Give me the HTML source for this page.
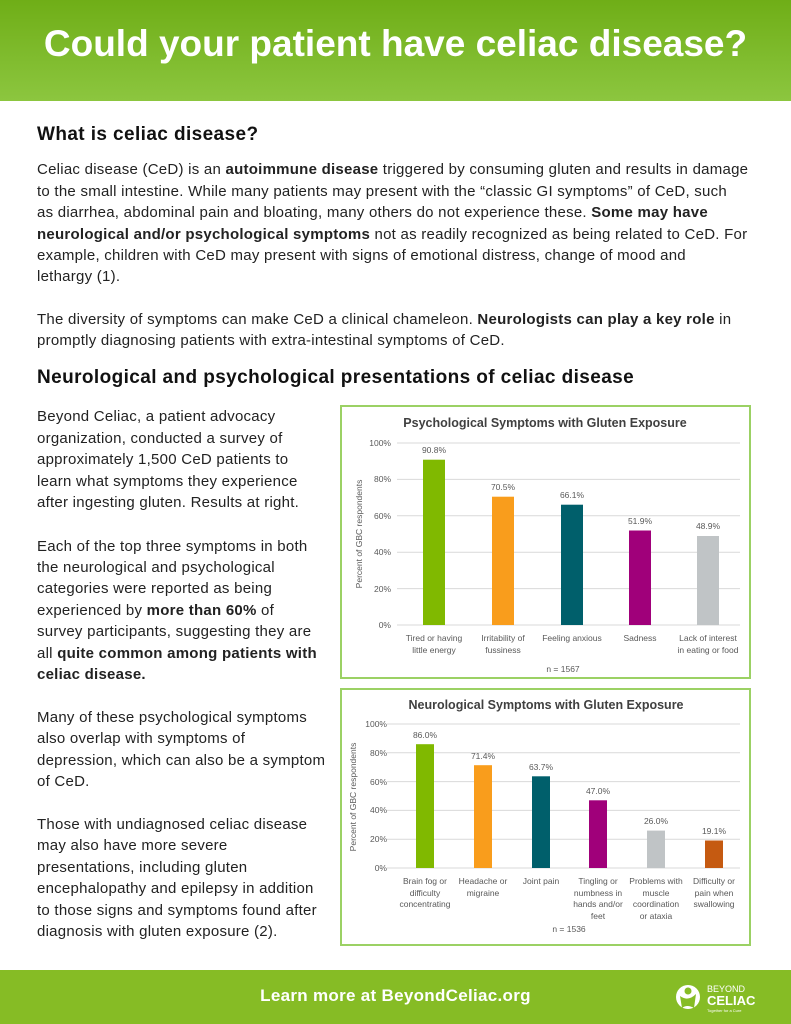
<!DOCTYPE html>
<html><head><meta charset="utf-8"><style>
*{margin:0;padding:0;box-sizing:border-box}
body{width:791px;height:1024px;position:relative;background:#fff;font-family:"Liberation Sans",sans-serif;color:#222;overflow:hidden}
.hdr{position:absolute;left:0;top:0;width:791px;height:101px;background:linear-gradient(#6fae17,#8cc63f);}
.hdr div{position:absolute;left:0;width:791px;top:23px;text-align:center;color:#fff;font-weight:bold;font-size:37px}
.l{position:absolute;white-space:nowrap;font-size:15px;line-height:20px;letter-spacing:0.25px}
.h{position:absolute;font-size:19px;color:#111;white-space:nowrap;font-weight:bold;letter-spacing:0.4px}
.ftr{position:absolute;left:0;top:970px;width:791px;height:54px;background:#86bc25}
.box{position:absolute;border:2px solid #9bd164;background:#fff}
</style></head><body>
<div class="hdr"><div>Could your patient have celiac disease?</div></div>
<div class="h" style="left:37px;top:124px">What is celiac disease?</div>
<div class="l" style="left:37px;top:160px">Celiac disease (CeD) is an <b>autoimmune disease</b> triggered by consuming gluten and results in damage</div>
<div class="l" style="left:37px;top:182px">to the small intestine. While many patients may present with the “classic GI symptoms” of CeD, such</div>
<div class="l" style="left:37px;top:203px">as diarrhea, abdominal pain and bloating, many others do not experience these. <b>Some may have</b></div>
<div class="l" style="left:37px;top:225px"><b>neurological and/or psychological symptoms</b> not as readily recognized as being related to CeD. For</div>
<div class="l" style="left:37px;top:246px">example, children with CeD may present with signs of emotional distress, change of mood and</div>
<div class="l" style="left:37px;top:267px">lethargy (1).</div>
<div class="l" style="left:37px;top:310px">The diversity of symptoms can make CeD a clinical chameleon. <b>Neurologists can play a key role</b> in</div>
<div class="l" style="left:37px;top:331px">promptly diagnosing patients with extra-intestinal symptoms of CeD.</div>
<div class="h" style="left:37px;top:367px">Neurological and psychological presentations of celiac disease</div>
<div class="l" style="left:37px;top:407px">Beyond Celiac, a patient advocacy</div>
<div class="l" style="left:37px;top:429px">organization, conducted a survey of</div>
<div class="l" style="left:37px;top:450px">approximately 1,500 CeD patients to</div>
<div class="l" style="left:37px;top:472px">learn what symptoms they experience</div>
<div class="l" style="left:37px;top:493px">after ingesting gluten. Results at right.</div>
<div class="l" style="left:37px;top:537px">Each of the top three symptoms in both</div>
<div class="l" style="left:37px;top:558px">the neurological and psychological</div>
<div class="l" style="left:37px;top:579px">categories were reported as being</div>
<div class="l" style="left:37px;top:601px">experienced by <b>more than 60%</b> of</div>
<div class="l" style="left:37px;top:622px">survey participants, suggesting they are</div>
<div class="l" style="left:37px;top:644px">all <b>quite common among patients with</b></div>
<div class="l" style="left:37px;top:665px"><b>celiac disease.</b></div>
<div class="l" style="left:37px;top:708px">Many of these psychological symptoms</div>
<div class="l" style="left:37px;top:729px">also overlap with symptoms of</div>
<div class="l" style="left:37px;top:751px">depression, which can also be a symptom</div>
<div class="l" style="left:37px;top:772px">of CeD.</div>
<div class="l" style="left:37px;top:815px">Those with undiagnosed celiac disease</div>
<div class="l" style="left:37px;top:836px">may also have more severe</div>
<div class="l" style="left:37px;top:858px">presentations, including gluten</div>
<div class="l" style="left:37px;top:879px">encephalopathy and epilepsy in addition</div>
<div class="l" style="left:37px;top:901px">to those signs and symptoms found after</div>
<div class="l" style="left:37px;top:922px">diagnosis with gluten exposure (2).</div>

<div class="box" style="left:340px;top:405px;width:411px;height:274px"></div>
<div class="box" style="left:340px;top:688px;width:411px;height:258px"></div>
<svg style="position:absolute;left:0;top:0" width="791" height="1024" font-family="Liberation Sans, sans-serif">
<g font-size="8.5" fill="#595959">
<text x="545" y="427" text-anchor="middle" font-size="12.5" font-weight="bold" fill="#404040">Psychological Symptoms with Gluten Exposure</text>
<g stroke="#d9d9d9" stroke-width="1">
<line x1="397" x2="740" y1="443" y2="443"/><line x1="397" x2="740" y1="479.4" y2="479.4"/><line x1="397" x2="740" y1="515.8" y2="515.8"/><line x1="397" x2="740" y1="552.2" y2="552.2"/><line x1="397" x2="740" y1="588.6" y2="588.6"/><line x1="397" x2="740" y1="625" y2="625"/></g>
<g text-anchor="end"><text x="391" y="446">100%</text><text x="391" y="482">80%</text><text x="391" y="519">60%</text><text x="391" y="555">40%</text><text x="391" y="592">20%</text><text x="391" y="628">0%</text></g>
<text transform="translate(362,534) rotate(-90)" text-anchor="middle">Percent of GBC respondents</text>
<rect x="423" y="459.7" width="22" height="165.3" fill="#80b900"/>
<rect x="492" y="496.7" width="22" height="128.3" fill="#f99d1c"/>
<rect x="561" y="504.7" width="22" height="120.3" fill="#005f6b"/>
<rect x="629" y="530.5" width="22" height="94.5" fill="#a0007a"/>
<rect x="697" y="536" width="22" height="89" fill="#c0c4c6"/>
<g text-anchor="middle"><text x="434" y="453">90.8%</text><text x="503" y="490">70.5%</text><text x="572" y="498">66.1%</text><text x="640" y="524">51.9%</text><text x="708" y="529">48.9%</text>
<text x="434" y="641">Tired or having</text><text x="434" y="653">little energy</text>
<text x="503" y="641">Irritability of</text><text x="503" y="653">fussiness</text>
<text x="572" y="641">Feeling anxious</text><text x="640" y="641">Sadness</text>
<text x="708" y="641">Lack of interest</text><text x="708" y="653">in eating or food</text>
<text x="563" y="672">n = 1567</text></g>

<text x="546" y="709" text-anchor="middle" font-size="12.5" font-weight="bold" fill="#404040">Neurological Symptoms with Gluten Exposure</text>
<g stroke="#d9d9d9"><line x1="387" x2="740" y1="724" y2="724"/><line x1="387" x2="740" y1="752.8" y2="752.8"/><line x1="387" x2="740" y1="781.6" y2="781.6"/><line x1="387" x2="740" y1="810.4" y2="810.4"/><line x1="387" x2="740" y1="839.2" y2="839.2"/><line x1="387" x2="740" y1="868" y2="868"/></g>
<g text-anchor="end"><text x="387" y="727">100%</text><text x="387" y="756">80%</text><text x="387" y="785">60%</text><text x="387" y="813">40%</text><text x="387" y="842">20%</text><text x="387" y="871">0%</text></g>
<text transform="translate(356,797) rotate(-90)" text-anchor="middle">Percent of GBC respondents</text>
<rect x="416" y="744.2" width="18" height="123.8" fill="#80b900"/>
<rect x="474" y="765.2" width="18" height="102.8" fill="#f99d1c"/>
<rect x="532" y="776.3" width="18" height="91.7" fill="#005f6b"/>
<rect x="589" y="800.3" width="18" height="67.7" fill="#a0007a"/>
<rect x="647" y="830.6" width="18" height="37.4" fill="#c0c4c6"/>
<rect x="705" y="840.5" width="18" height="27.5" fill="#c55a11"/>
<g text-anchor="middle"><text x="425" y="738">86.0%</text><text x="483" y="759">71.4%</text><text x="541" y="770">63.7%</text><text x="598" y="794">47.0%</text><text x="656" y="824">26.0%</text><text x="714" y="834">19.1%</text>
<text x="425" y="884">Brain fog or</text><text x="425" y="896">difficulty</text><text x="425" y="907">concentrating</text>
<text x="483" y="884">Headache or</text><text x="483" y="896">migraine</text>
<text x="541" y="884">Joint pain</text>
<text x="598" y="884">Tingling or</text><text x="598" y="896">numbness in</text><text x="598" y="907">hands and/or</text><text x="598" y="919">feet</text>
<text x="656" y="884">Problems with</text><text x="656" y="896">muscle</text><text x="656" y="907">coordination</text><text x="656" y="919">or ataxia</text>
<text x="714" y="884">Difficulty or</text><text x="714" y="896">pain when</text><text x="714" y="907">swallowing</text>
<text x="569" y="932">n = 1536</text></g>
</g>
</svg>
<div class="ftr"></div>
<div style="position:absolute;left:0;width:791px;top:986px;text-align:center;color:#fff;font-size:17px;font-weight:bold;letter-spacing:0.3px">Learn more at BeyondCeliac.org</div>
<svg style="position:absolute;left:672px;top:980px" width="90" height="34">
<circle cx="16" cy="17" r="12" fill="#fff"/><circle cx="16" cy="11" r="3.5" fill="#86bc25"/><path d="M8 16 Q16 22 24 14 L22 28 Q15 24 10 28Z" fill="#86bc25"/>
<text x="35" y="12" fill="#fff" font-size="9" font-family="Liberation Sans, sans-serif">BEYOND</text>
<text x="35" y="25" fill="#fff" font-size="13" font-weight="bold" font-family="Liberation Sans, sans-serif">CELIAC</text>
<text x="35" y="32" fill="#fff" font-size="4" font-family="Liberation Sans, sans-serif">Together for a Cure</text>
</svg>
</body></html>
